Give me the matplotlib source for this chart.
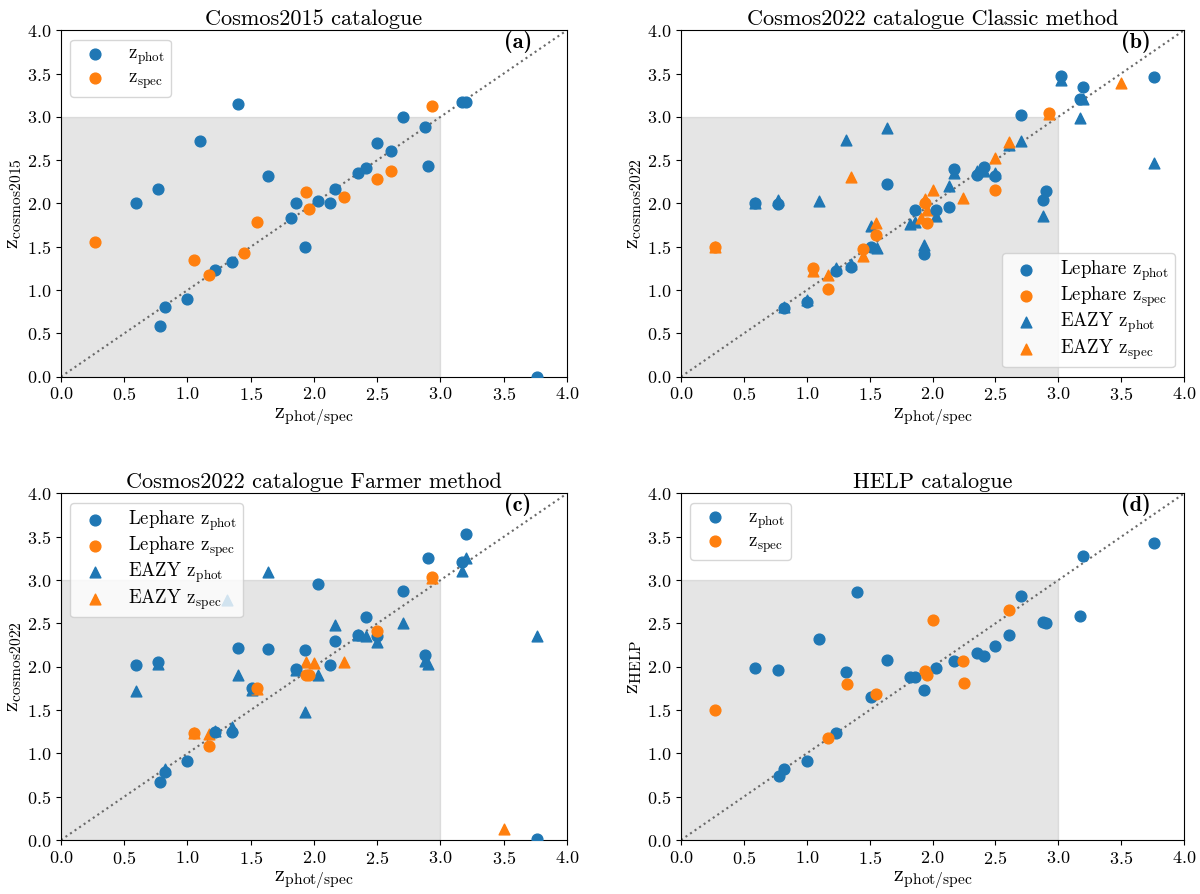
import numpy as np
import matplotlib
matplotlib.use('Agg')
import matplotlib.pyplot as plt

plt.rcParams['font.family'] = 'serif'
plt.rcParams['font.serif'] = ['cmr10']
plt.rcParams['mathtext.fontset'] = 'cm'
plt.rcParams['axes.formatter.use_mathtext'] = True
plt.rcParams['axes.unicode_minus'] = False

# ---- (a) Cosmos2015 ----
a_phot_x = [0.59, 0.77, 0.78, 0.82, 1.00, 1.10, 1.22, 1.35, 1.40, 1.64, 1.82, 1.86, 1.93,
            2.03, 2.13, 2.17, 2.35, 2.41, 2.50, 2.61, 2.70, 2.88, 2.90, 3.17, 3.20, 3.76]
a_phot_y = [2.00, 2.17, 0.58, 0.81, 0.90, 2.72, 1.23, 1.33, 3.15, 2.32, 1.83, 2.00, 1.50,
            2.03, 2.01, 2.17, 2.35, 2.41, 2.70, 2.61, 3.00, 2.88, 2.43, 3.17, 3.17, 0.00]
a_spec_x = [0.27, 1.05, 1.17, 1.45, 1.55, 1.94, 1.96, 2.24, 2.50, 2.61, 2.93]
a_spec_y = [1.55, 1.35, 1.17, 1.43, 1.79, 2.13, 1.94, 2.08, 2.28, 2.38, 3.13]

# ---- (b) Cosmos2022 Classic ----
b_lep_phot_x = [0.59, 0.77, 0.82, 1.00, 1.23, 1.35, 1.51, 1.64, 1.86, 1.93, 2.03, 2.13,
                2.17, 2.35, 2.41, 2.50, 2.70, 2.88, 2.90, 3.02, 3.17, 3.20, 3.76]
b_lep_phot_y = [2.00, 1.99, 0.79, 0.86, 1.22, 1.27, 1.50, 2.22, 1.92, 1.42, 1.92, 1.96,
                2.40, 2.33, 2.42, 2.32, 3.02, 2.04, 2.14, 3.47, 3.21, 3.34, 3.46]
b_lep_spec_x = [0.27, 1.05, 1.17, 1.45, 1.55, 1.94, 1.96, 2.50, 2.93]
b_lep_spec_y = [1.50, 1.25, 1.01, 1.47, 1.64, 2.01, 1.78, 2.16, 3.04]
b_eazy_phot_x = [0.59, 0.77, 0.82, 1.00, 1.10, 1.23, 1.31, 1.35, 1.51, 1.56, 1.64, 1.82,
                 1.86, 1.93, 2.03, 2.13, 2.17, 2.35, 2.41, 2.50, 2.61, 2.70, 2.88, 3.02,
                 3.17, 3.20, 3.76]
b_eazy_phot_y = [2.01, 2.04, 0.80, 0.89, 2.03, 1.26, 2.73, 1.30, 1.74, 1.49, 2.87, 1.76,
                 1.79, 1.52, 1.85, 2.20, 2.35, 2.37, 2.37, 2.35, 2.67, 2.72, 1.85, 3.43,
                 2.99, 3.21, 2.47]
b_eazy_spec_x = [0.27, 1.05, 1.17, 1.35, 1.45, 1.55, 1.91, 1.94, 1.96, 2.00, 2.24, 2.50,
                 2.61, 2.93, 3.50]
b_eazy_spec_y = [1.50, 1.22, 1.17, 2.30, 1.39, 1.78, 1.83, 2.05, 1.92, 2.16, 2.06, 2.53,
                 2.71, 3.03, 3.39]

# ---- (c) Cosmos2022 Farmer ----
c_lep_phot_x = [0.59, 0.77, 0.78, 0.82, 1.00, 1.22, 1.35, 1.40, 1.51, 1.64, 1.86, 1.93,
                2.03, 2.13, 2.17, 2.35, 2.41, 2.50, 2.70, 2.88, 2.90, 3.17, 3.20, 3.76]
c_lep_phot_y = [2.02, 2.06, 0.67, 0.78, 0.91, 1.25, 1.25, 2.22, 1.76, 2.20, 1.97, 2.19,
                2.96, 2.02, 2.30, 2.37, 2.57, 2.35, 2.88, 2.13, 3.26, 3.21, 3.53, 0.01]
c_lep_spec_x = [1.05, 1.17, 1.55, 1.94, 1.96, 2.50, 2.93]
c_lep_spec_y = [1.23, 1.08, 1.76, 1.90, 1.90, 2.41, 3.04]
c_eazy_phot_x = [0.59, 0.77, 0.82, 1.22, 1.31, 1.35, 1.40, 1.51, 1.64, 1.86, 1.93, 2.03,
                 2.17, 2.35, 2.41, 2.50, 2.70, 2.88, 2.90, 3.17, 3.20, 3.76]
c_eazy_phot_y = [1.72, 2.03, 0.82, 1.26, 2.77, 1.30, 1.91, 1.73, 3.09, 1.96, 1.48, 1.90,
                 2.48, 2.37, 2.36, 2.28, 2.50, 2.07, 2.03, 3.11, 3.25, 2.35]
c_eazy_spec_x = [1.05, 1.17, 1.55, 1.94, 2.00, 2.24, 2.93, 3.50]
c_eazy_spec_y = [1.23, 1.22, 1.74, 2.05, 2.04, 2.05, 3.02, 0.13]

# ---- (d) HELP ----
d_phot_x = [0.59, 0.77, 0.78, 0.82, 1.00, 1.10, 1.23, 1.31, 1.40, 1.51, 1.64, 1.82, 1.86,
            1.93, 2.03, 2.17, 2.35, 2.41, 2.50, 2.61, 2.70, 2.88, 2.90, 3.17, 3.20, 3.76]
d_phot_y = [1.98, 1.96, 0.74, 0.82, 0.91, 2.32, 1.24, 1.94, 2.86, 1.65, 2.08, 1.88, 1.88,
            1.73, 1.98, 2.07, 2.16, 2.12, 2.24, 2.37, 2.82, 2.52, 2.51, 2.59, 3.28, 3.43]
d_spec_x = [0.27, 1.17, 1.32, 1.55, 1.94, 1.96, 2.00, 2.24, 2.25, 2.61]
d_spec_y = [1.50, 1.18, 1.80, 1.68, 1.95, 1.90, 2.54, 2.07, 1.81, 2.66]

blue = 'tab:blue'
orange = 'tab:orange'
ms = 60
ph = r'z$_\mathrm{phot}$'
sp = r'z$_\mathrm{spec}$'
leg_kw = dict(fontsize=13.5, labelspacing=0.1, borderpad=0.3)

fig = plt.figure(figsize=(12, 8.94), dpi=100)
ax_a = fig.add_axes([0.0508, 0.5786, 0.4217, 0.3876])
ax_b = fig.add_axes([0.5675, 0.5786, 0.4192, 0.3876])
ax_c = fig.add_axes([0.0508, 0.0604, 0.4217, 0.3876])
ax_d = fig.add_axes([0.5675, 0.0604, 0.4192, 0.3876])


def setup(ax, title, ylabel, tag):
    ax.fill_between([0, 3], [3, 3], color='grey', alpha=0.2, zorder=0)
    ax.plot([0, 4], [0, 4], ':', color='dimgray', lw=1.5, zorder=1)
    ax.set_xlim(0, 4)
    ax.set_ylim(0, 4)
    ax.set_xticks(np.arange(0, 4.01, 0.5))
    ax.set_yticks(np.arange(0, 4.01, 0.5))
    ax.tick_params(labelsize=13)
    ax.set_title(title, fontsize=16, pad=4)
    ax.set_xlabel(r'z$_\mathrm{phot/spec}$', fontsize=16, labelpad=2)
    ax.set_ylabel(ylabel, fontsize=16, labelpad=2)
    ax.text(3.5, 3.8, tag, fontsize=16, fontfamily='cmb10')


setup(ax_a, 'Cosmos2015 catalogue', r'z$_\mathrm{cosmos2015}$', '(a)')
ax_a.scatter(a_phot_x, a_phot_y, s=ms, color=blue, label=ph, zorder=3)
ax_a.scatter(a_spec_x, a_spec_y, s=ms, color=orange, label=sp, zorder=3)
ax_a.legend(loc='upper left', **leg_kw)

setup(ax_b, 'Cosmos2022 catalogue Classic method', r'z$_\mathrm{cosmos2022}$', '(b)')
h3 = ax_b.scatter(b_eazy_phot_x, b_eazy_phot_y, s=ms, marker='^', color=blue, label='EAZY ' + ph, zorder=3)
h4 = ax_b.scatter(b_eazy_spec_x, b_eazy_spec_y, s=ms, marker='^', color=orange, label='EAZY ' + sp, zorder=3)
h1 = ax_b.scatter(b_lep_phot_x, b_lep_phot_y, s=ms, color=blue, label='Lephare ' + ph, zorder=3)
h2 = ax_b.scatter(b_lep_spec_x, b_lep_spec_y, s=ms, color=orange, label='Lephare ' + sp, zorder=3)
ax_b.legend(handles=[h1, h2, h3, h4], loc='lower right', **leg_kw)

setup(ax_c, 'Cosmos2022 catalogue Farmer method', r'z$_\mathrm{cosmos2022}$', '(c)')
h3 = ax_c.scatter(c_eazy_phot_x, c_eazy_phot_y, s=ms, marker='^', color=blue, label='EAZY ' + ph, zorder=3)
h4 = ax_c.scatter(c_eazy_spec_x, c_eazy_spec_y, s=ms, marker='^', color=orange, label='EAZY ' + sp, zorder=3)
h1 = ax_c.scatter(c_lep_phot_x, c_lep_phot_y, s=ms, color=blue, label='Lephare ' + ph, zorder=3)
h2 = ax_c.scatter(c_lep_spec_x, c_lep_spec_y, s=ms, color=orange, label='Lephare ' + sp, zorder=3)
ax_c.legend(handles=[h1, h2, h3, h4], loc='upper left', **leg_kw)

setup(ax_d, 'HELP catalogue', r'z$_\mathrm{HELP}$', '(d)')
ax_d.scatter(d_phot_x, d_phot_y, s=ms, color=blue, label=ph, zorder=3)
ax_d.scatter(d_spec_x, d_spec_y, s=ms, color=orange, label=sp, zorder=3)
ax_d.legend(loc='upper left', **leg_kw)

plt.savefig('out.png', dpi=100)
